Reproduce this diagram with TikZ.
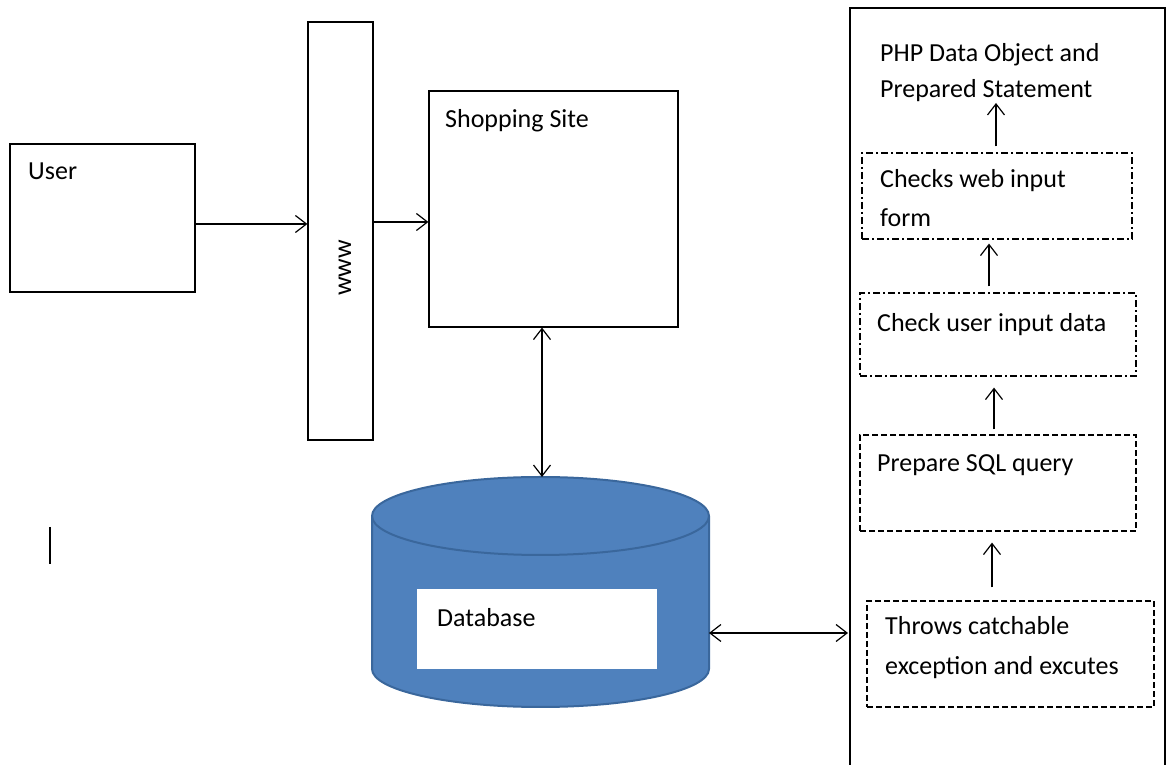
\documentclass[tikz,border=0pt]{standalone}
\usepackage{fontspec}
\setmainfont{Carlito}
\usetikzlibrary{arrows.meta}

\definecolor{dbfill}{HTML}{4F81BD}
\definecolor{dbline}{HTML}{3A679C}

\tikzset{
    box/.style={draw, line width=1.2pt, inner sep=0pt},
    dashdot/.style={box, dash pattern=on 7pt off 3pt on 2pt off 3pt},
    dashbox/.style={box, dash pattern=on 6pt off 3pt},
    txt/.style={anchor=base west, inner sep=0pt, font=\fontsize{26}{31}\selectfont},
    arr/.style={line width=1.2pt, -{Straight Barb[length=11pt,width=17pt]}},
    dbl/.style={line width=1.2pt, {Straight Barb[length=11pt,width=17pt]}-{Straight Barb[length=11pt,width=17pt]}}
}

\begin{document}
\begin{tikzpicture}[x=1pt,y=1pt]
                \useasboundingbox (0,0) rectangle (1167,765);

                \node[box, minimum width=185pt, minimum height=148pt] (user) at (102.5,547) {};
                \node[box, minimum width=65pt, minimum height=418pt] (www) at (340.5,534) {};
                \node[box, minimum width=249pt, minimum height=236pt] (shop) at (553.5,556) {};

                \node[txt] (usertxt) at (28,585) {User};
                \node[txt, anchor=center, rotate=90] (wwwtxt) at (345,497) {www};
                \node[txt] (shoptxt) at (445,637) {Shopping Site};

                % database cylinder
                \draw[fill=dbfill, draw=dbline, line width=2pt] (372,249) -- (372,96) arc (180:360:168.5 and 38) -- (709,249) arc (0:180:168.5 and 39) -- cycle;
                \draw[draw=dbline, line width=2pt] (372,249) arc (180:360:168.5 and 39);
                \node[fill=white, minimum width=240pt, minimum height=80pt, inner sep=0pt] (db) at (537,136) {};
                \node[txt] (dbtxt) at (437,138) {Database};
                \coordinate (dbtop) at (542,288);
                \coordinate (dbright) at (709,132);

                % right frame
                \draw[line width=1.2pt] (850,-10) -- (850,757) -- (1165,757) -- (1165,-10);

                \node[txt] (phpa) at (880,703) {PHP Data Object and};
                \node[txt] (phpb) at (880,667) {Prepared Statement};

                \node[dashdot, minimum width=270pt, minimum height=86pt] (web) at (997,569) {};
                \node[txt] (weba) at (880,577) {Checks web input};
                \node[txt] (webb) at (880,538) {form};

                \node[dashdot, minimum width=276pt, minimum height=83pt] (check) at (998,430.5) {};
                \node[txt] (checktxt) at (877,433) {Check user input data};

                \node[dashbox, minimum width=276pt, minimum height=96pt] (sql) at (998,282) {};
                \node[txt] (sqltxt) at (877,293) {Prepare SQL query};

                \node[dashbox, minimum width=287pt, minimum height=106pt] (throws) at (1010.5,111) {};
                \node[txt] (throwsa) at (885,130) {Throws catchable};
                \node[txt] (throwsb) at (885,90) {exception and excutes};

                \draw[arr] ([yshift=-6pt]user.east) -- ([yshift=-6pt]user.east -| www.west);
                \draw[arr] ([yshift=9pt]www.east) -- ([yshift=9pt]www.east -| shop.west);
                \draw[dbl] ([xshift=-11.5pt]shop.south) -- (dbtop);
                \draw[dbl] (dbright) -- (848,132);

                \draw[arr, shorten <=13pt, shorten >=11pt] ([xshift=-18.5pt]throws.north) -- ([xshift=-6pt]sql.south);
                \draw[arr, shorten <=5pt, shorten >=11pt] ([xshift=-4pt]sql.north) -- ([xshift=-4pt]check.south);
                \draw[arr, shorten <=6pt, shorten >=4pt] ([xshift=-9pt]check.north) -- ([xshift=-8pt]web.south);
                \draw[arr, shorten <=6pt] ([xshift=-1pt]web.north) -- (996,662);

                \draw[line width=1.2pt] (50,238) -- (50,201);
            \end{tikzpicture}
\end{document}
